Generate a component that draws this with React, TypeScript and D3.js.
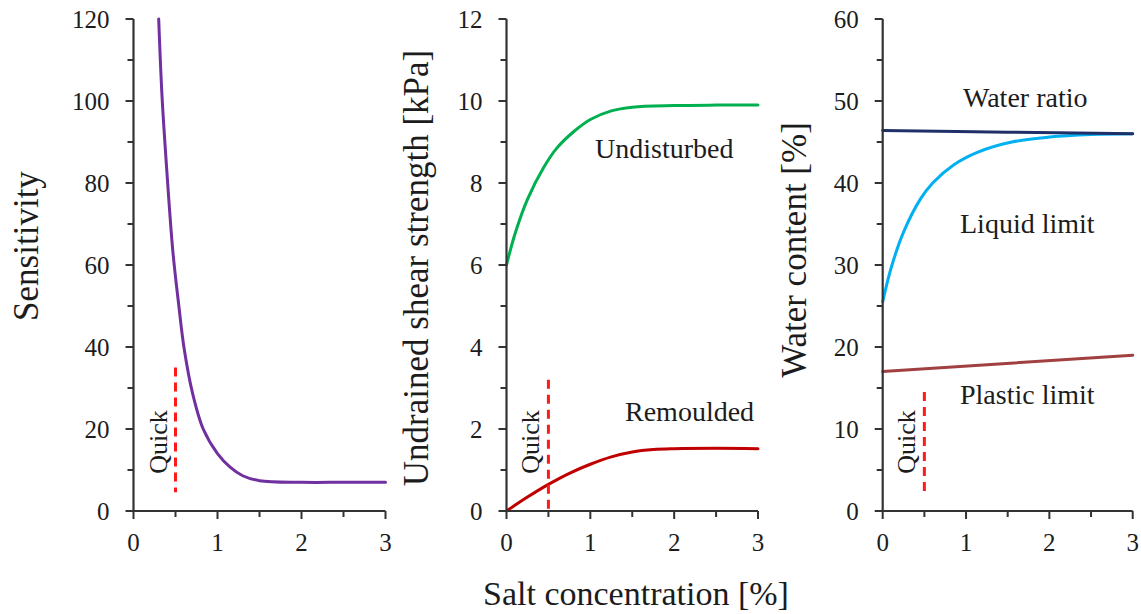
import React from "react";
import * as d3 from "d3";

// Salt concentration [%] vs. soil properties (quick clay leaching)
const saltTicks = [0, 1, 2, 3];
const saltMinor = [0.5, 1.5, 2.5];

const sensitivity: [number, number][] = [
  [0.3, 120], [0.34, 101], [0.4, 82], [0.47, 63], [0.54, 50], [0.6, 40],
  [0.7, 29], [0.83, 20], [1.0, 14], [1.15, 10.7], [1.3, 8.6], [1.5, 7.4],
  [2.0, 7.0], [2.5, 7.0], [3.0, 7.0],
];
const undisturbed: [number, number][] = [
  [0, 6.0], [0.1, 6.75], [0.25, 7.6], [0.45, 8.4], [0.6, 8.85], [0.8, 9.25],
  [1.0, 9.55], [1.25, 9.76], [1.5, 9.85], [2.0, 9.89], [2.5, 9.9], [3.0, 9.9],
];
const remoulded: [number, number][] = [
  [0, 0], [0.25, 0.34], [0.5, 0.65], [0.75, 0.92], [1.0, 1.14], [1.25, 1.32],
  [1.5, 1.44], [1.75, 1.5], [2.0, 1.52], [2.5, 1.53], [3.0, 1.52],
];
const waterRatio: [number, number][] = [[0, 46.4], [1.5, 46.2], [3, 46.0]];
const liquidLimit: [number, number][] = [
  [0, 25.5], [0.1, 29.6], [0.25, 34.0], [0.45, 38.0], [0.6, 40.0], [0.85, 42.2],
  [1.15, 43.8], [1.55, 45.0], [2.0, 45.6], [2.5, 45.9], [3, 46.0],
];
const plasticLimit: [number, number][] = [[0, 17], [3, 19]];

// "Quick" marker at 0.5 % salt: [x, yFrom, yTo]
const quickSensitivity: [number, number, number] = [0.5, 35, 4.6];
const quickStrength: [number, number, number] = [0.5, 3.2, 0];
const quickWater: [number, number, number] = [0.5, 14.5, 1.7];

const sensTicks = [0, 20, 40, 60, 80, 100, 120];
const strengthTicks = [0, 2, 4, 6, 8, 10, 12];
const waterTicks = [0, 10, 20, 30, 40, 50, 60];

const FONT = "'Liberation Serif', 'Times New Roman', serif";
const AXIS = "#333";
const TEXT = "#1c1c1c";

type Series = { data: [number, number][]; color: string };
type Label = { text: string; x: number; y: number };

type PanelProps = {
  x0: number;
  x1: number;
  yTicks: number[];
  title: string;
  titleX: number;
  titleY: number;
  series: Series[];
  quick: [number, number, number];
  labels: Label[];
};

const TOP = 19;
const BOTTOM = 511;
const QUICK_LABEL_Y = 442;

function Panel({ x0, x1, yTicks, title, titleX, titleY, series, quick, labels }: PanelProps) {
  const yMax = yTicks[yTicks.length - 1];
  const step = yTicks[1] - yTicks[0];
  const x = d3.scaleLinear().domain([0, 3]).range([x0, x1]);
  const y = d3.scaleLinear().domain([0, yMax]).range([BOTTOM, TOP]);
  const yMinor = yTicks.slice(0, -1).map((t) => t + step / 2);
  const line = d3
    .line<[number, number]>()
    .x((d) => x(d[0]))
    .y((d) => y(d[1]))
    .curve(d3.curveCatmullRom.alpha(0.5));

  return (
    <g>
      {series.map((s, i) => (
        <path key={i} d={line(s.data) || ""} fill="none" stroke={s.color} strokeWidth={3} strokeLinecap="round" />
      ))}
      <line
        x1={x(quick[0])}
        x2={x(quick[0])}
        y1={y(quick[1])}
        y2={y(quick[2])}
        stroke="#ff1a1a"
        strokeWidth={3}
        strokeDasharray="9,6"
      />
      <text
        transform={`translate(${x(quick[0]) - 9},${QUICK_LABEL_Y}) rotate(-90)`}
        textAnchor="middle"
        fontFamily={FONT}
        fontSize={26}
        fill={TEXT}
      >
        Quick
      </text>

      {/* axes */}
      <line x1={x0} x2={x0} y1={y(yMax)} y2={y(0)} stroke={AXIS} strokeWidth={2.2} />
      <line x1={x0} x2={x1} y1={y(0)} y2={y(0)} stroke={AXIS} strokeWidth={2.2} />
      {yTicks.map((t) => (
        <g key={"y" + t}>
          <line x1={x0 - 8} x2={x0} y1={y(t)} y2={y(t)} stroke={AXIS} strokeWidth={2} />
          <text x={x0 - 24} y={y(t)} dy="0.35em" textAnchor="end" fontFamily={FONT} fontSize={25} fill={TEXT}>
            {t}
          </text>
        </g>
      ))}
      {yMinor.map((t) => (
        <line key={"ym" + t} x1={x0 - 6} x2={x0} y1={y(t)} y2={y(t)} stroke={AXIS} strokeWidth={2} />
      ))}
      {saltTicks.map((t) => (
        <g key={"x" + t}>
          <line x1={x(t)} x2={x(t)} y1={y(0)} y2={y(0) + 8} stroke={AXIS} strokeWidth={2} />
          <text x={x(t)} y={551} textAnchor="middle" fontFamily={FONT} fontSize={25} fill={TEXT}>
            {t}
          </text>
        </g>
      ))}
      {saltMinor.map((t) => (
        <line key={"xm" + t} x1={x(t)} x2={x(t)} y1={y(0)} y2={y(0) + 6} stroke={AXIS} strokeWidth={2} />
      ))}

      <text
        transform={`translate(${titleX},${titleY}) rotate(-90)`}
        textAnchor="middle"
        fontFamily={FONT}
        fontSize={35}
        fill={TEXT}
      >
        {title}
      </text>
      {labels.map((l) => (
        <text key={l.text} x={l.x} y={l.y} fontFamily={FONT} fontSize={28} fill={TEXT}>
          {l.text}
        </text>
      ))}
    </g>
  );
}

export default function App() {
  return (
    <svg
      width={1141}
      height={614}
      style={{ position: "absolute", left: 0, top: 0, background: "#fff" }}
    >
      <Panel
        x0={133.5}
        x1={385.5}
        yTicks={sensTicks}
        title="Sensitivity"
        titleX={38}
        titleY={246}
        series={[{ data: sensitivity, color: "#7030a0" }]}
        quick={quickSensitivity}
        labels={[]}
      />
      <Panel
        x0={506.5}
        x1={758}
        yTicks={strengthTicks}
        title="Undrained shear strength [kPa]"
        titleX={428}
        titleY={268}
        series={[
          { data: undisturbed, color: "#00b050" },
          { data: remoulded, color: "#c00000" },
        ]}
        quick={quickStrength}
        labels={[
          { text: "Undisturbed", x: 595, y: 158 },
          { text: "Remoulded", x: 625, y: 421 },
        ]}
      />
      <Panel
        x0={882.7}
        x1={1132.7}
        yTicks={waterTicks}
        title="Water content [%]"
        titleX={806}
        titleY={250}
        series={[
          { data: plasticLimit, color: "#a04040" },
          { data: liquidLimit, color: "#00b0f0" },
          { data: waterRatio, color: "#1f3068" },
        ]}
        quick={quickWater}
        labels={[
          { text: "Water ratio", x: 963, y: 107 },
          { text: "Liquid limit", x: 960, y: 233 },
          { text: "Plastic limit", x: 960, y: 404 },
        ]}
      />
      <text x={636} y={605} textAnchor="middle" fontFamily={FONT} fontSize={34} fill={TEXT}>
        Salt concentration [%]
      </text>
    </svg>
  );
}
